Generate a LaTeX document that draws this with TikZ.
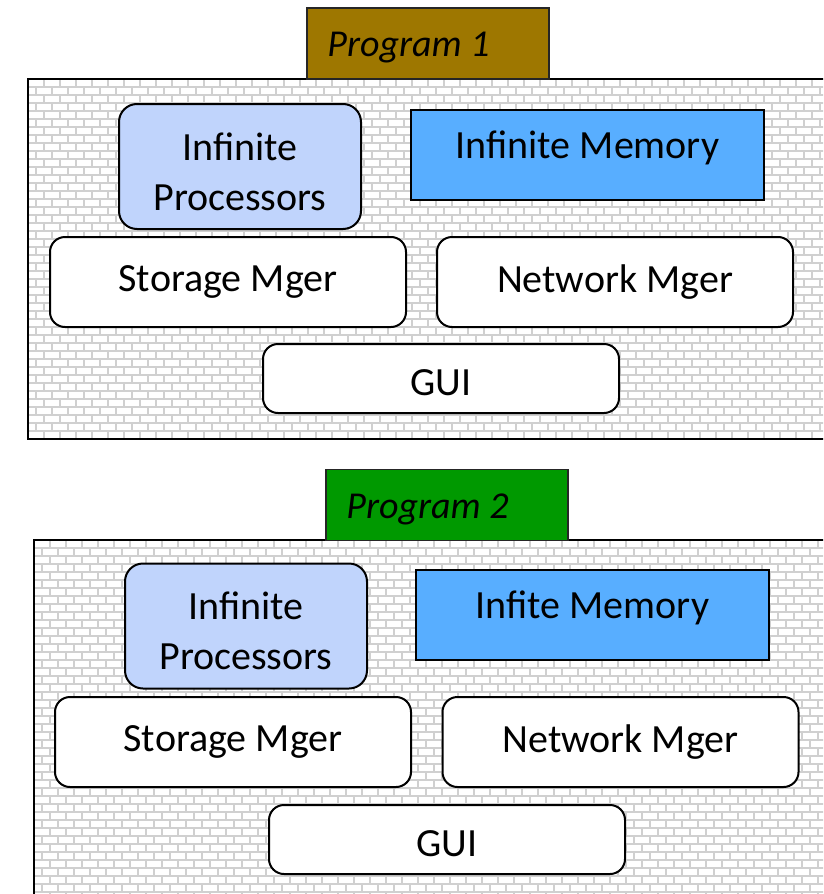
\documentclass[tikz,border=0pt]{standalone}
\usepackage{fontspec}
\setmainfont{Carlito}
\definecolor{progbrown}{HTML}{9E7700}
\definecolor{proggreen}{HTML}{009900}
\definecolor{procblue}{HTML}{C0D4FC}
\definecolor{memblue}{HTML}{58AEFF}
\definecolor{brickgray}{HTML}{D0D0D0}
\tikzset{
  brickline/.style={draw=brickgray, line width=1.1pt},
  panelframe/.style={draw=black, line width=2.5pt},
  tab/.style={draw=black!85, line width=1.6pt, minimum width=242pt, minimum height=71pt,
    inner sep=0pt},
  tabtext/.style={font=\fontsize{38}{42}\selectfont\itshape, inner sep=0pt, anchor=west},
  procbox/.style={draw=black, line width=2pt, fill=procblue, rounded corners=18pt,
    minimum width=242pt, minimum height=125pt, inner sep=0pt},
  proctext/.style={align=center, font=\fontsize{40}{50}\selectfont, inner sep=0pt},
  membox/.style={draw=black, line width=2pt, fill=memblue,
    minimum width=353pt, minimum height=90pt, inner sep=0pt},
  memtext/.style={font=\fontsize{40}{48}\selectfont, inner sep=0pt},
  mgrbox/.style={draw=black, line width=2pt, fill=white, rounded corners=15pt,
    minimum width=356pt, minimum height=90pt, inner sep=0pt,
    font=\fontsize{40}{48}\selectfont},
  guibox/.style={mgrbox, minimum height=69pt, text height=34pt, text depth=0pt},
}
% brick-textured panel: #1,#2 top-left corner, #3,#4 bottom-right corner
\newcommand\brickpanel[4]{%
  \begin{scope}
    \clip (#1,#2) rectangle (#3,#4);
    \foreach \r in {0,...,46} {
      \draw[brickline] (#1,{#2+\r*8}) -- (#3,{#2+\r*8});
    }
    \foreach \c in {0,...,104} {
      \pgfmathsetmacro\ph{mod(\c,2)*8}
      \draw[brickline, dash pattern=on 8pt off 8pt, dash phase=\ph pt]
        ({#1+\c*8},#2) -- ({#1+\c*8},#4);
    }
  \end{scope}
  \draw[panelframe] (#1,#2) rectangle (#3,#4);
}
\begin{document}
\begin{tikzpicture}[x=1pt, y=-1pt]
  \useasboundingbox (0,0) rectangle (823,894);
  \clip (0,0) rectangle (823,894);

  % ---- Program 1 ----
  \brickpanel{28}{79}{840}{439}
  \node[tab, fill=progbrown] (lab1) at (428,43.5) {};
  \node[tabtext] (labt1) at ([xshift=21pt,yshift=-4pt]lab1.west) {Program 1};
  \node[procbox] (proc1) at (240,166.5) {};
  \node[proctext] (proct1) at ([yshift=-5pt]proc1.center) {Infinite\\Processors};
  \node[membox] (mem1) at (587.5,155) {};
  \node[memtext, anchor=north] (memt1) at ([yshift=-22pt]mem1.north) {Infinite Memory};
  \node[mgrbox] (stor1) at (228,282) {Storage Mger};
  \node[mgrbox] (net1) at (615,282) {Network Mger};
  \node[guibox] (gui1) at (441,378.5) {GUI};

  % ---- Program 2 ----
  \brickpanel{34}{540}{840}{910}
  \node[tab, fill=proggreen] (lab2) at (447,505) {};
  \node[tabtext] (labt2) at ([xshift=21pt,yshift=-4pt]lab2.west) {Program 2};
  \node[procbox] (proc2) at (246,626) {};
  \node[proctext] (proct2) at ([yshift=-5pt]proc2.center) {Infinite\\Processors};
  \node[membox] (mem2) at (592.5,615) {};
  \node[memtext, anchor=north] (memt2) at ([yshift=-22pt]mem2.north) {Infite Memory};
  \node[mgrbox] (stor2) at (233,742) {Storage Mger};
  \node[mgrbox] (net2) at (620.5,742) {Network Mger};
  \node[guibox] (gui2) at (447,839.5) {GUI};
\end{tikzpicture}
\end{document}
